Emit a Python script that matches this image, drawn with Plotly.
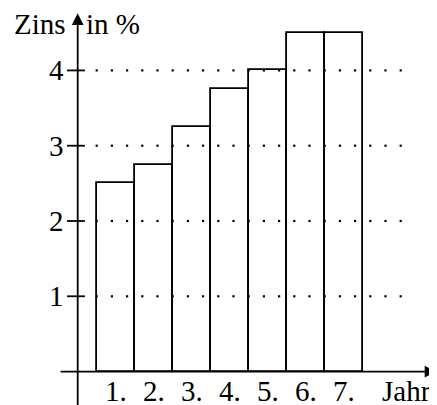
import numpy as np
import plotly.graph_objects as go

years = [1, 2, 3, 4, 5, 6, 7]
x_labels = ["1.", "2.", "3.", "4.", "5.", "6.", "7."]
rates = [2.5, 2.75, 3.25, 3.75, 4.0, 4.5, 4.5]
y_ticks = [1, 2, 3, 4]
y_tick_labels = ["1", "2", "3", "4"]

FONT = "Liberation Serif"
FS = 29
LW = 1.8

fig = go.Figure()
fig.add_trace(go.Bar(
    x=years, y=rates, width=1,
    marker=dict(color="rgba(0,0,0,0)", line=dict(color="black", width=LW)),
    showlegend=False, hoverinfo="skip",
))

# dotted grid lines
gx = np.arange(0.5, 8.55, 0.4)
for v in y_ticks:
    fig.add_trace(go.Scatter(
        x=gx, y=[v] * len(gx), mode="markers",
        marker=dict(symbol="square", size=2.2, color="black", line=dict(width=0)),
        showlegend=False, hoverinfo="skip",
    ))

shapes = []
for v in y_ticks:
    shapes.append(dict(type="line", xref="x", yref="y", x0=-0.28, x1=0.19, y0=v, y1=v,
                       line=dict(color="black", width=LW)))

ann = []
# axes with arrows
ann.append(dict(x=0, y=4.76, ax=0, ay=-0.6, xref="x", yref="y", axref="x", ayref="y",
                showarrow=True, arrowhead=2, arrowsize=1.3, arrowwidth=LW, arrowcolor="black", text=""))
ann.append(dict(x=9.44, y=0, ax=-0.49, ay=0, xref="x", yref="y", axref="x", ayref="y",
                showarrow=True, arrowhead=2, arrowsize=1.3, arrowwidth=LW, arrowcolor="black", text=""))

for v, t in zip(y_ticks, y_tick_labels):
    ann.append(dict(x=-0.3, y=v, xref="x", yref="y", text=t, showarrow=False,
                    xanchor="right", yanchor="middle", font=dict(family=FONT, size=FS, color="black")))
for xv, t in zip(years, x_labels):
    ann.append(dict(x=xv, y=-0.26, xref="x", yref="y", text=t, showarrow=False,
                    xanchor="center", yanchor="middle", font=dict(family=FONT, size=FS, color="black")))
ann.append(dict(x=8.64, y=-0.26, xref="x", yref="y", text="Jahr", showarrow=False,
                xanchor="center", yanchor="middle", font=dict(family=FONT, size=FS, color="black")))
ann.append(dict(x=-0.26, y=4.62, xref="x", yref="y", text="Zins", showarrow=False,
                xanchor="right", yanchor="middle", font=dict(family=FONT, size=FS, color="black")))
ann.append(dict(x=0.16, y=4.62, xref="x", yref="y", text="in %", showarrow=False,
                xanchor="left", yanchor="middle", font=dict(family=FONT, size=FS, color="black")))

fig.update_layout(
    width=437, height=405,
    margin=dict(l=0, r=0, t=0, b=0),
    paper_bgcolor="white", plot_bgcolor="white",
    xaxis=dict(range=[-1.834, 9.666], visible=False, fixedrange=True),
    yaxis=dict(range=[-0.550, 4.829], visible=False, fixedrange=True),
    shapes=shapes, annotations=ann, bargap=0,
)
fig.write_html("out.html")
